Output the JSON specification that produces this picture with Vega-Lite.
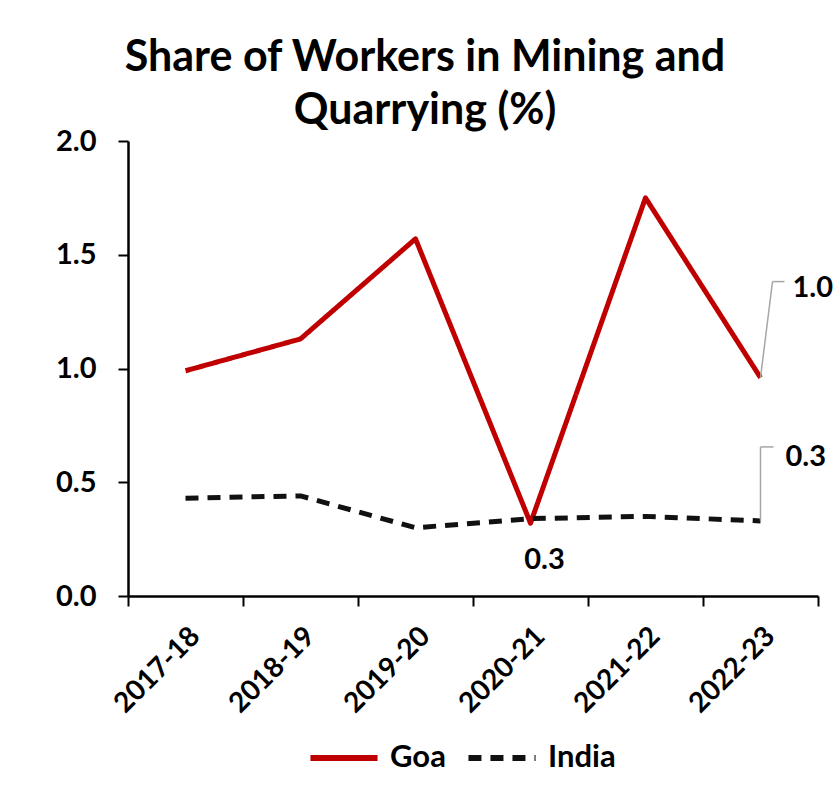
{
  "$schema": "https://vega.github.io/schema/vega-lite/v6.json",
  "width": 690,
  "height": 455,
  "autosize": {"type": "none"},
  "padding": {"left": 128, "top": 141, "right": 15, "bottom": 203},
  "background": "white",
  "config": {
    "view": {"stroke": null},
    "font": "Lato"
  },
  "title": {
    "text": ["Share of Workers in Mining and", "Quarrying (%)"],
    "font": "Lato",
    "fontSize": 43,
    "fontWeight": "bold",
    "color": "black",
    "lineHeight": 53,
    "anchor": "middle",
    "dx": -48,
    "offset": -6
  },
  "data": {
    "values": [
      {"year": "2017-18", "series": "Goa", "value": 0.99},
      {"year": "2018-19", "series": "Goa", "value": 1.13},
      {"year": "2019-20", "series": "Goa", "value": 1.57},
      {"year": "2020-21", "series": "Goa", "value": 0.32},
      {"year": "2021-22", "series": "Goa", "value": 1.75},
      {"year": "2022-23", "series": "Goa", "value": 0.96},
      {"year": "2017-18", "series": "India", "value": 0.43},
      {"year": "2018-19", "series": "India", "value": 0.44},
      {"year": "2019-20", "series": "India", "value": 0.30},
      {"year": "2020-21", "series": "India", "value": 0.34},
      {"year": "2021-22", "series": "India", "value": 0.35},
      {"year": "2022-23", "series": "India", "value": 0.33}
    ]
  },
  "encoding": {
    "x": {
      "field": "year",
      "type": "ordinal",
      "scale": {"type": "band", "paddingInner": 0, "paddingOuter": 0},
      "axis": {
        "title": null,
        "tickBand": "extent",
        "labelAngle": -45,
        "labelFont": "Lato",
        "labelFontSize": 28,
        "labelFontWeight": "bold",
        "labelColor": "black",
        "labelPadding": 16,
        "tickSize": 10,
        "tickColor": "black",
        "tickWidth": 2,
        "domainColor": "black",
        "domainWidth": 2.5,
        "grid": false
      }
    },
    "y": {
      "field": "value",
      "type": "quantitative",
      "scale": {"domain": [0, 2], "nice": false, "zero": true},
      "axis": {
        "title": null,
        "values": [0, 0.5, 1, 1.5, 2],
        "format": ".1f",
        "grid": false,
        "labelFont": "Lato",
        "labelFontSize": 29,
        "labelFontWeight": "bold",
        "labelColor": "black",
        "labelPadding": 22,
        "tickSize": 10,
        "tickColor": "black",
        "tickWidth": 2,
        "domainColor": "black",
        "domainWidth": 2.5
      }
    }
  },
  "layer": [
    {
      "mark": {"type": "line", "strokeWidth": 5, "strokeJoin": "round"},
      "encoding": {
        "color": {
          "field": "series",
          "type": "nominal",
          "title": null,
          "scale": {"domain": ["Goa", "India"], "range": ["#C00000", "#111111"]},
          "legend": {
            "orient": "none",
            "legendX": 179,
            "legendY": 580,
            "direction": "horizontal",
            "symbolType": "stroke",
            "symbolSize": 4500,
            "symbolStrokeWidth": 6,
            "labelFont": "Lato",
            "labelFontSize": 31,
            "labelFontWeight": "bold",
            "labelColor": "black",
            "labelOffset": 9,
            "columnPadding": 10,
            "labelLimit": 200
          }
        },
        "strokeDash": {
          "field": "series",
          "type": "nominal",
          "title": null,
          "scale": {"domain": ["Goa", "India"], "range": [[1, 0], [13, 9]]}
        }
      }
    },
    {
      "transform": [{"filter": "datum.series == 'Goa' && datum.year == '2022-23'"}],
      "mark": {"type": "rule", "color": "#A6A6A6", "strokeWidth": 1.5, "x2Offset": 12, "y2Offset": -96},
      "encoding": {"x2": {"field": "year"}, "y2": {"field": "value"}}
    },
    {
      "transform": [{"filter": "datum.series == 'Goa' && datum.year == '2022-23'"}],
      "mark": {"type": "rule", "color": "#A6A6A6", "strokeWidth": 1.5, "xOffset": 12, "yOffset": -96, "x2Offset": 24, "y2Offset": -96},
      "encoding": {"x2": {"field": "year"}, "y2": {"field": "value"}}
    },
    {
      "transform": [{"filter": "datum.series == 'India' && datum.year == '2022-23'"}],
      "mark": {"type": "rule", "color": "#A6A6A6", "strokeWidth": 1.5, "y2Offset": -74},
      "encoding": {"x2": {"field": "year"}, "y2": {"field": "value"}}
    },
    {
      "transform": [{"filter": "datum.series == 'India' && datum.year == '2022-23'"}],
      "mark": {"type": "rule", "color": "#A6A6A6", "strokeWidth": 1.5, "yOffset": -74, "x2Offset": 13, "y2Offset": -74},
      "encoding": {"x2": {"field": "year"}, "y2": {"field": "value"}}
    },
    {
      "transform": [{"filter": "datum.series == 'Goa' && datum.year == '2022-23'"}],
      "mark": {"type": "text", "align": "left", "baseline": "middle", "dx": 32, "dy": -90, "font": "Lato", "fontSize": 29, "fontWeight": "bold", "color": "black"},
      "encoding": {"text": {"field": "value", "format": ".1f"}}
    },
    {
      "transform": [{"filter": "datum.series == 'India' && datum.year == '2022-23'"}],
      "mark": {"type": "text", "align": "left", "baseline": "middle", "dx": 25, "dy": -64, "font": "Lato", "fontSize": 29, "fontWeight": "bold", "color": "black"},
      "encoding": {"text": {"field": "value", "format": ".1f"}}
    },
    {
      "transform": [{"filter": "datum.series == 'Goa' && datum.year == '2020-21'"}],
      "mark": {"type": "text", "align": "center", "baseline": "middle", "dx": 14, "dy": 37, "font": "Lato", "fontSize": 29, "fontWeight": "bold", "color": "black"},
      "encoding": {"text": {"field": "value", "format": ".1f"}}
    }
  ]
}
